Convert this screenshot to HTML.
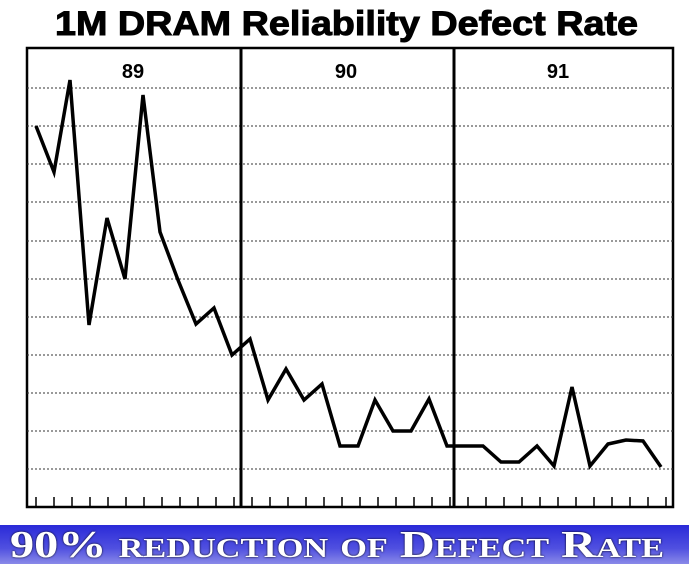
<!DOCTYPE html>
<html><head><style>
body{margin:0;width:689px;height:564px;background:#fff;overflow:hidden;position:relative;font-family:"Liberation Sans",sans-serif}
.t{position:absolute;top:2px;left:55px;white-space:nowrap;font-weight:bold;font-size:34px;line-height:44px;color:#000;transform:scaleX(1.11);transform-origin:0 0;-webkit-text-stroke:1px #000}
.b{position:absolute;left:0;top:525px;width:689px;height:39px;background:linear-gradient(#2a2ad8,#5050e0 60%,#8a8ae8);}
.b span{position:absolute;left:10px;top:1px;white-space:nowrap;font-family:"Liberation Serif",serif;font-weight:bold;font-variant:small-caps;font-size:38px;line-height:38px;color:#fff;transform:scaleX(1.27);transform-origin:0 0;text-shadow:0 0 2px #000}
</style></head><body>
<div class="t">1M DRAM Reliability Defect Rate</div>
<svg width="689" height="564" style="position:absolute;left:0;top:0">
<rect x="27" y="48" width="646" height="459" fill="none" stroke="#000" stroke-width="2.5"/>
<g stroke="#333" stroke-width="1" stroke-dasharray="2,2">
<line x1="27" x2="673" y1="88" y2="88"/><line x1="27" x2="673" y1="126" y2="126"/><line x1="27" x2="673" y1="164" y2="164"/><line x1="27" x2="673" y1="202" y2="202"/><line x1="27" x2="673" y1="241" y2="241"/><line x1="27" x2="673" y1="279" y2="279"/><line x1="27" x2="673" y1="317" y2="317"/><line x1="27" x2="673" y1="355" y2="355"/><line x1="27" x2="673" y1="393" y2="393"/><line x1="27" x2="673" y1="431" y2="431"/><line x1="27" x2="673" y1="469" y2="469"/>
</g>
<g stroke="#000" stroke-width="3"><line x1="241" y1="48" x2="241" y2="507"/><line x1="454" y1="48" x2="454" y2="507"/></g>
<g stroke="#000" stroke-width="1.5" id="tk"></g>
<polyline fill="none" stroke="#000" stroke-width="3.5" stroke-linejoin="miter" points="36,126 54,172 70,80 89,325 107,218 125,279 143,95 160,232 178,280 196,324 214,308 232,355 250,339 268,400 286,369 304,400 322,384 340,446 358,446 375,400 393,431 411,431 429,399 447,446 465,446 483,446 501,462 519,462 537,446 554,466 572,387 590,466 608,444 626,440 643,441 661,467"/>
<g font-family="Liberation Sans,sans-serif" font-weight="bold" font-size="20" text-anchor="middle"><text x="133" y="78">89</text><text x="346" y="78">90</text><text x="558" y="78">91</text></g>
</svg>
<div class="b"><span>90% reduction of Defect Rate</span></div>
<script>
var g=document.getElementById('tk'),s='';
for(var i=0;i<36;i++){var x=36+18*i;s+='<line x1="'+x+'" x2="'+x+'" y1="497" y2="507"/>';}
g.innerHTML=s;
</script>
</body></html>
